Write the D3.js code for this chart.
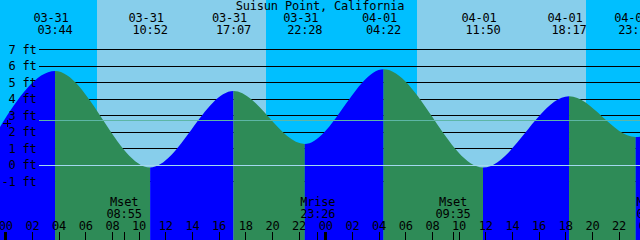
<!DOCTYPE html>
<html><head><meta charset="utf-8">
<script src="https://cdn.jsdelivr.net/npm/d3@7"></script>
<style>html,body{margin:0;padding:0;background:#00BFFF;overflow:hidden}svg{display:block}</style>
</head><body><svg id="c" width="640" height="240"></svg>
<script>
// ---------- data ----------
const title = "Suisun Point, California";
const days = ["03-30", "03-31", "04-01", "04-02"];          // day index 0 = 03-30
const tideDates   = ["03-30", "03-31", "03-31", "03-31", "03-31", "04-01", "04-01", "04-01", "04-01", "04-02"];
const tideTimes   = ["23:00", "03:44", "10:52", "17:07", "22:28", "04:22", "11:50", "18:17", "23:17", "05:20"];
const tideHeights = [1.5, 5.7, -0.15, 4.48, 1.27, 5.8, -0.15, 4.17, 1.7, 5.8];   // ft
const sunDates  = ["03-31", "03-31", "04-01", "04-01"];
const sunTimes  = ["06:53", "19:33", "06:53", "19:33"];
const sunEvents = ["rise", "set", "rise", "set"];
const moonDates  = ["03-31", "03-31", "04-01", "04-02"];
const moonTimes  = ["08:55", "23:26", "09:35", "00:40"];
const moonEvents = ["Mset", "Mrise", "Mset", "Mrise"];
const heightTicks = [-1, 0, 1, 2, 3, 4, 5, 6, 7];          // ft
const hourTicks = [0, 2, 4, 6, 8, 10, 12, 14, 16, 18, 20, 22, 24, 26, 28, 30, 32, 34, 36, 38, 40, 42, 44, 46, 48];
const mslHeight = 2.71;   // ft
const datumHeight = 0;

// ---------- helpers ----------
const W = 640, H = 240;
function hours(dateStr, timeStr) {
  const [hh, mm] = timeStr.split(":").map(Number);
  return (days.indexOf(dateStr) - 1) * 24 + hh + mm / 60;   // hours from 03-31 00:00
}
const x = d3.scaleLinear().domain([-0.39375, 47.60625]).range([0, W]);
const y = d3.scaleLinear().domain([0, 7]).range([165, 49.5]);

const FONT = "'DejaVu Sans Mono', 'Liberation Mono', monospace";
const C = { night: "#00BFFF", day: "#87CEEB", rise: "#0000FF", fall: "#2E8B57", text: "#000", msl: "#5DB6A6", datum: "#A3D8F0" };

const svg = d3.select("#c");

// ---------- background (day / night) ----------
svg.append("rect").attr("x", 0).attr("y", 0).attr("width", W).attr("height", H).attr("fill", C.night);
const sun = sunTimes.map((t, i) => ({ t: hours(sunDates[i], t), ev: sunEvents[i] }));
for (let i = 0; i < sun.length; i++) {
  if (sun[i].ev !== "rise") continue;
  const end = (i + 1 < sun.length) ? sun[i + 1].t : x.domain()[1];
  svg.append("rect")
    .attr("x", Math.round(x(sun[i].t))).attr("y", 0)
    .attr("width", Math.round(x(end)) - Math.round(x(sun[i].t))).attr("height", H)
    .attr("fill", C.day).attr("shape-rendering", "crispEdges");
}

// ---------- foot lines (behind tide) ----------
svg.append("g").selectAll("line").data(heightTicks.filter(d => d !== 0)).join("line")
  .attr("x1", 39).attr("x2", W)
  .attr("y1", d => Math.floor(y(d)) + 0.5).attr("y2", d => Math.floor(y(d)) + 0.5)
  .attr("stroke", "#000").attr("stroke-width", 1).attr("shape-rendering", "crispEdges");

// ---------- tide ----------
const tide = tideTimes.map((t, i) => ({ t: hours(tideDates[i], t), h: tideHeights[i] }));
const area = d3.area().curve(d3.curveMonotoneX)
  .x(d => x(d.t)).y0(H).y1(d => y(d.h));
const defs = svg.append("defs");
for (let i = 0; i < tide.length - 1; i++) {
  const a = tide[i], b = tide[i + 1];
  defs.append("clipPath").attr("id", "seg" + i)
    .append("rect").attr("x", x(a.t)).attr("y", 0).attr("width", x(b.t) - x(a.t)).attr("height", H);
  svg.append("path").datum(tide).attr("d", area)
    .attr("clip-path", `url(#seg${i})`)
    .attr("fill", b.h > a.h ? C.rise : C.fall);
}

// ---------- msl & datum lines ----------
svg.append("line").attr("x1", 39).attr("x2", W)
  .attr("y1", Math.floor(y(mslHeight)) + 0.5).attr("y2", Math.floor(y(mslHeight)) + 0.5)
  .attr("stroke", C.msl).attr("shape-rendering", "crispEdges");
svg.append("line").attr("x1", 39).attr("x2", W)
  .attr("y1", Math.floor(y(datumHeight)) + 0.5).attr("y2", Math.floor(y(datumHeight)) + 0.5)
  .attr("stroke", C.datum).attr("shape-rendering", "crispEdges");

// ---------- texts ----------
const txt = (g) => g.attr("font-family", FONT).attr("font-size", 12).attr("letter-spacing", "-0.2px").attr("fill", C.text);

svg.append("text").call(txt).attr("x", W / 2).attr("y", 10.3).attr("text-anchor", "middle").text(title);

// y labels
svg.append("g").selectAll("text").data(heightTicks).join("text").call(txt)
  .attr("x", 36.5).attr("y", d => y(d) + 4.3).attr("text-anchor", "end")
  .text(d => `${d} ft`);

// tide extreme labels
const shown = tide.map((d, i) => ({ ...d, date: tideDates[i], time: tideTimes[i] }))
  .filter(d => x(d.t) >= 0 && x(d.t) <= W);
const gl = svg.append("g");
gl.selectAll("text.d").data(shown).join("text").attr("class", "d").call(txt)
  .attr("x", d => x(d.t) - 4).attr("y", 22.3).attr("text-anchor", "middle").text(d => d.date);
gl.selectAll("text.t").data(shown).join("text").attr("class", "t").call(txt)
  .attr("x", d => x(d.t)).attr("y", 34.3).attr("text-anchor", "middle").text(d => d.time);

// moon events
const moon = moonTimes.map((t, i) => ({ t: hours(moonDates[i], t), time: t, ev: moonEvents[i] }));
const gm = svg.append("g");
gm.selectAll("text.e").data(moon).join("text").attr("class", "e").call(txt)
  .attr("x", d => x(d.t)).attr("y", 206).attr("text-anchor", "middle").text(d => d.ev);
gm.selectAll("text.m").data(moon).join("text").attr("class", "m").call(txt)
  .attr("x", d => x(d.t)).attr("y", 217.7).attr("text-anchor", "middle").text(d => d.time);
gm.selectAll("line").data(moon).join("line")
  .attr("x1", d => Math.floor(x(d.t)) + 0.5).attr("x2", d => Math.floor(x(d.t)) + 0.5)
  .attr("y1", 232).attr("y2", H).attr("stroke", "#000").attr("shape-rendering", "crispEdges");

// hour axis
const axis = d3.axisTop(x).tickValues(hourTicks).tickSize(8).tickPadding(1.7)
  .tickFormat(d => String(d % 24).padStart(2, "0"));
const ga = svg.append("g").attr("transform", `translate(0,${H})`).call(axis);
ga.select(".domain").remove();
ga.selectAll(".tick line").attr("stroke", "#000")
  .attr("stroke-width", d => d % 24 === 0 ? 3 : 1).attr("shape-rendering", "crispEdges");
ga.selectAll(".tick text").call(txt);
ga.attr("font-family", null).attr("font-size", null);

// small cross marker at left
svg.append("path").attr("d", "M3,123.5H11M7,120V127").attr("stroke", "#000")
  .attr("shape-rendering", "crispEdges").attr("fill", "none");
</script>
</body></html>
